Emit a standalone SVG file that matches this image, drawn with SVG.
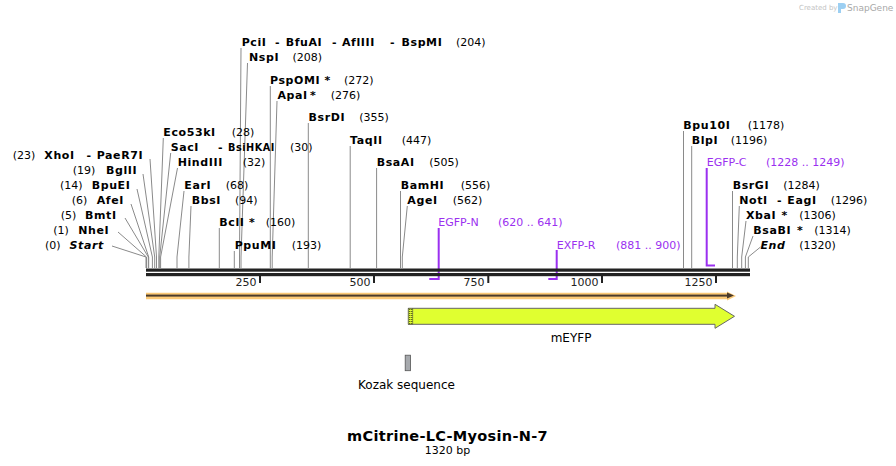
<svg xmlns="http://www.w3.org/2000/svg" width="896" height="466" viewBox="0 0 896 466">
<style>
text{font-family:"DejaVu Sans",Verdana,sans-serif;font-size:11px;fill:#000}
.b{font-weight:bold;letter-spacing:0.6px}
.i{font-weight:bold;font-style:italic;letter-spacing:0.6px}
.p{fill:#9b30f0}
.r{fill:#222;text-anchor:end}
.cut{stroke:#8a8a8a;stroke-width:1;fill:none}
.pr{stroke:#9b30f0;stroke-width:2;fill:none}
.tick{fill:#222}
</style>
<rect width="896" height="466" fill="#fff"/>
<g id="watermark">
<text x="799" y="10" style="font-size:7px;fill:#c4c4c4">Created by</text>
<path d="M838,3 h5 a3,3 0 0 1 0,6 h-2 v4 h-3 z" fill="#9ccff2"/>
<text x="847" y="11" style="font-size:9px;fill:#a8a8a8">SnapGene</text>
</g>
<g id="connectors">
<polyline class="cut" points="150,159 156.5,257 156.5,268"/>
<polyline class="cut" points="143,174 154.7,257 154.7,268"/>
<polyline class="cut" points="137,189 152.4,257 152.4,268"/>
<polyline class="cut" points="131,204 148.7,257 148.7,268"/>
<polyline class="cut" points="125,218 148.3,257 148.3,268"/>
<polyline class="cut" points="118,232 146.5,257 146.5,268"/>
<polyline class="cut" points="112,246 146,257 146,268"/>
<polyline class="cut" points="163.3,138 158.8,257 158.8,268"/>
<polyline class="cut" points="170.7,153 159.7,257 159.7,268"/>
<polyline class="cut" points="177.5,168 160.6,257 160.6,268"/>
<polyline class="cut" points="184,191 177,257 177,268"/>
<polyline class="cut" points="191,206 188.9,257 188.9,268"/>
<polyline class="cut" points="219.3,228 219.3,268"/>
<polyline class="cut" points="234.3,251 234.3,268"/>
<polyline class="cut" points="241,48 239.5,257 239.5,268"/>
<polyline class="cut" points="247.5,63 241,257 241,268"/>
<polyline class="cut" points="270.3,86 270.3,257 270.3,268"/>
<polyline class="cut" points="277,101 272.2,257 272.2,268"/>
<polyline class="cut" points="308.3,123 308.3,268"/>
<polyline class="cut" points="350.2,146 350.2,268"/>
<polyline class="cut" points="376.6,168 376.6,268"/>
<polyline class="cut" points="400.5,191 400.5,268"/>
<polyline class="cut" points="407.3,206 402.3,257 402.3,268"/>
<polyline class="cut" points="683.5,131 683.5,268"/>
<polyline class="cut" points="691.7,146 691.7,268"/>
<polyline class="cut" points="732.5,191 732.5,268"/>
<polyline class="cut" points="739.3,206 737.3,257 737.3,268"/>
<polyline class="cut" points="746,221 741.7,257 741.7,268"/>
<polyline class="cut" points="753,236 745.4,257 745.4,268"/>
<polyline class="cut" points="760.5,247 748.3,257 748.3,268"/>
<polyline class="pr" points="438.7,228 438.7,279 429.3,279"/>
<polyline class="pr" points="556.7,250 556.7,279 548.3,279"/>
<polyline class="pr" points="706.7,168 706.7,265.5 715,265.5"/>
</g>
<g id="backbone">
<rect x="146" y="268.5" width="604" height="3.2" fill="#222"/>
<rect x="146" y="273" width="604" height="3.2" fill="#222"/>
<rect class="tick" x="259" y="275" width="2" height="8"/>
<rect class="tick" x="373" y="275" width="2" height="8"/>
<rect class="tick" x="487.3" y="275" width="2" height="8"/>
<rect class="tick" x="601" y="275" width="2" height="8"/>
<rect class="tick" x="715" y="275" width="2" height="8"/>
<text class="r" x="256.5" y="286">250</text>
<text class="r" x="370.5" y="286">500</text>
<text class="r" x="484.5" y="286">750</text>
<text class="r" x="598.5" y="286">1000</text>
<text class="r" x="712.5" y="286">1250</text>
</g>
<g id="orf">
<path d="M146,292.7 H727 V291.5 L736,296 L727,300.5 V299.2 H146 Z" fill="#fbc977"/>
<rect x="146" y="294.6" width="582" height="2" fill="#4a3b2c"/>
<path d="M727,292.6 L734,295.6 L727,298.6 Z" fill="#4a3b2c"/>
</g>
<g id="mEYFP">
<path d="M408.3,308.3 H715 V304.3 L734.5,316.3 L715,328.3 V324.3 H408.3 Z" fill="#e0ff30" stroke="#666" stroke-width="1"/>
<rect x="408.3" y="308.3" width="4.5" height="16" fill="#e0ff30" stroke="#555" stroke-width="0.6"/>
<line x1="409.8" y1="309" x2="409.8" y2="324" stroke="#000" stroke-width="0.8" stroke-dasharray="1,1"/>
<line x1="411.8" y1="309" x2="411.8" y2="324" stroke="#000" stroke-width="0.8" stroke-dasharray="1,1"/>
<text x="571" y="342" text-anchor="middle" style="font-size:12px">mEYFP</text>
</g>
<g id="kozak">
<rect x="405.2" y="355.2" width="5.3" height="15.5" fill="#a6a9ad" stroke="#555" stroke-width="0.8"/>
<text x="406.5" y="389" text-anchor="middle" style="font-size:12px">Kozak sequence</text>
</g>
<g id="labels-left">
<text x="12.7" y="159">(23)</text><text class="b" x="44.3" y="159">XhoI</text><text class="b" x="86.5" y="159">-</text><text class="b" x="96.7" y="159">PaeR7I</text>
<text x="72.7" y="174">(19)</text><text class="b" x="106" y="174">BglII</text>
<text x="60" y="189">(14)</text><text class="b" x="91.7" y="189">BpuEI</text>
<text x="71.7" y="204">(6)</text><text class="b" x="96.7" y="204">AfeI</text>
<text x="60.7" y="219">(5)</text><text class="b" x="85" y="219">BmtI</text>
<text x="53.3" y="234">(1)</text><text class="b" x="78.3" y="234">NheI</text>
<text x="45" y="249">(0)</text><text class="i" x="69.5" y="249">Start</text>
</g>
<g id="labels-top">
<text class="b" x="241.7" y="46">PciI</text><text class="b" x="275" y="46">-</text><text class="b" x="285.7" y="46">BfuAI</text><text class="b" x="332" y="46">-</text><text class="b" x="342" y="46">AflIII</text><text class="b" x="390" y="46">-</text><text class="b" x="401.5" y="46">BspMI</text><text x="456" y="46">(204)</text>
<text class="b" x="249" y="61">NspI</text><text x="292.5" y="61">(208)</text>
<text class="b" x="270" y="84">PspOMI</text><text class="b" x="324.5" y="84">*</text><text x="344" y="84">(272)</text>
<text class="b" x="277.5" y="99">ApaI</text><text class="b" x="310" y="99">*</text><text x="330.7" y="99">(276)</text>
<text class="b" x="308.5" y="121">BsrDI</text><text x="359.3" y="121">(355)</text>
<text class="b" x="163.3" y="136">Eco53kI</text><text x="231.7" y="136">(28)</text>
<text class="b" x="170.7" y="151">SacI</text><text class="b" x="218" y="151">-</text><text class="b" x="228" y="151" textLength="47" lengthAdjust="spacingAndGlyphs">BsiHKAI</text><text x="290" y="151">(30)</text>
<text class="b" x="177.7" y="166">HindIII</text><text x="242.7" y="166">(32)</text>
<text class="b" x="184.3" y="189">EarI</text><text x="225.7" y="189">(68)</text>
<text class="b" x="191.7" y="204">BbsI</text><text x="235" y="204">(94)</text>
<text class="b" x="219.3" y="226">BclI</text><text class="b" x="249" y="226">*</text><text x="265.7" y="226">(160)</text>
<text class="b" x="234.7" y="249">PpuMI</text><text x="291.7" y="249">(193)</text>
</g>
<g id="labels-mid">
<text class="b" x="350" y="144">TaqII</text><text x="401.7" y="144">(447)</text>
<text class="b" x="376.7" y="166">BsaAI</text><text x="429.3" y="166">(505)</text>
<text class="b" x="400.7" y="189">BamHI</text><text x="460.7" y="189">(556)</text>
<text class="b" x="407.3" y="204">AgeI</text><text x="452.7" y="204">(562)</text>
<text class="p" x="438.3" y="226">EGFP-N</text><text class="p" x="498" y="226">(620 .. 641)</text>
<text class="p" x="556.7" y="249">EXFP-R</text><text class="p" x="616" y="249">(881 .. 900)</text>
</g>
<g id="labels-right">
<text class="b" x="683.3" y="129">Bpu10I</text><text x="747.7" y="129">(1178)</text>
<text class="b" x="691.7" y="144">BlpI</text><text x="730.7" y="144">(1196)</text>
<text class="p" x="706.7" y="166">EGFP-C</text><text class="p" x="766" y="166">(1228 .. 1249)</text>
<text class="b" x="732.7" y="189">BsrGI</text><text x="783.3" y="189">(1284)</text>
<text class="b" x="739.3" y="204">NotI</text><text class="b" x="777" y="204">-</text><text class="b" x="787.3" y="204">EagI</text><text x="830.7" y="204">(1296)</text>
<text class="b" x="746" y="219">XbaI</text><text class="b" x="781.5" y="219">*</text><text x="799.3" y="219">(1306)</text>
<text class="b" x="753.3" y="234">BsaBI</text><text class="b" x="797" y="234">*</text><text x="814.3" y="234">(1314)</text>
<text class="i" x="760.5" y="249">End</text><text x="799.3" y="249">(1320)</text>
</g>
<g id="title">
<text class="b" x="447.5" y="441" text-anchor="middle" style="font-size:14.5px;letter-spacing:0.3px">mCitrine-LC-Myosin-N-7</text>
<text x="447.5" y="454" text-anchor="middle" style="font-size:11px">1320 bp</text>
</g>
</svg>
